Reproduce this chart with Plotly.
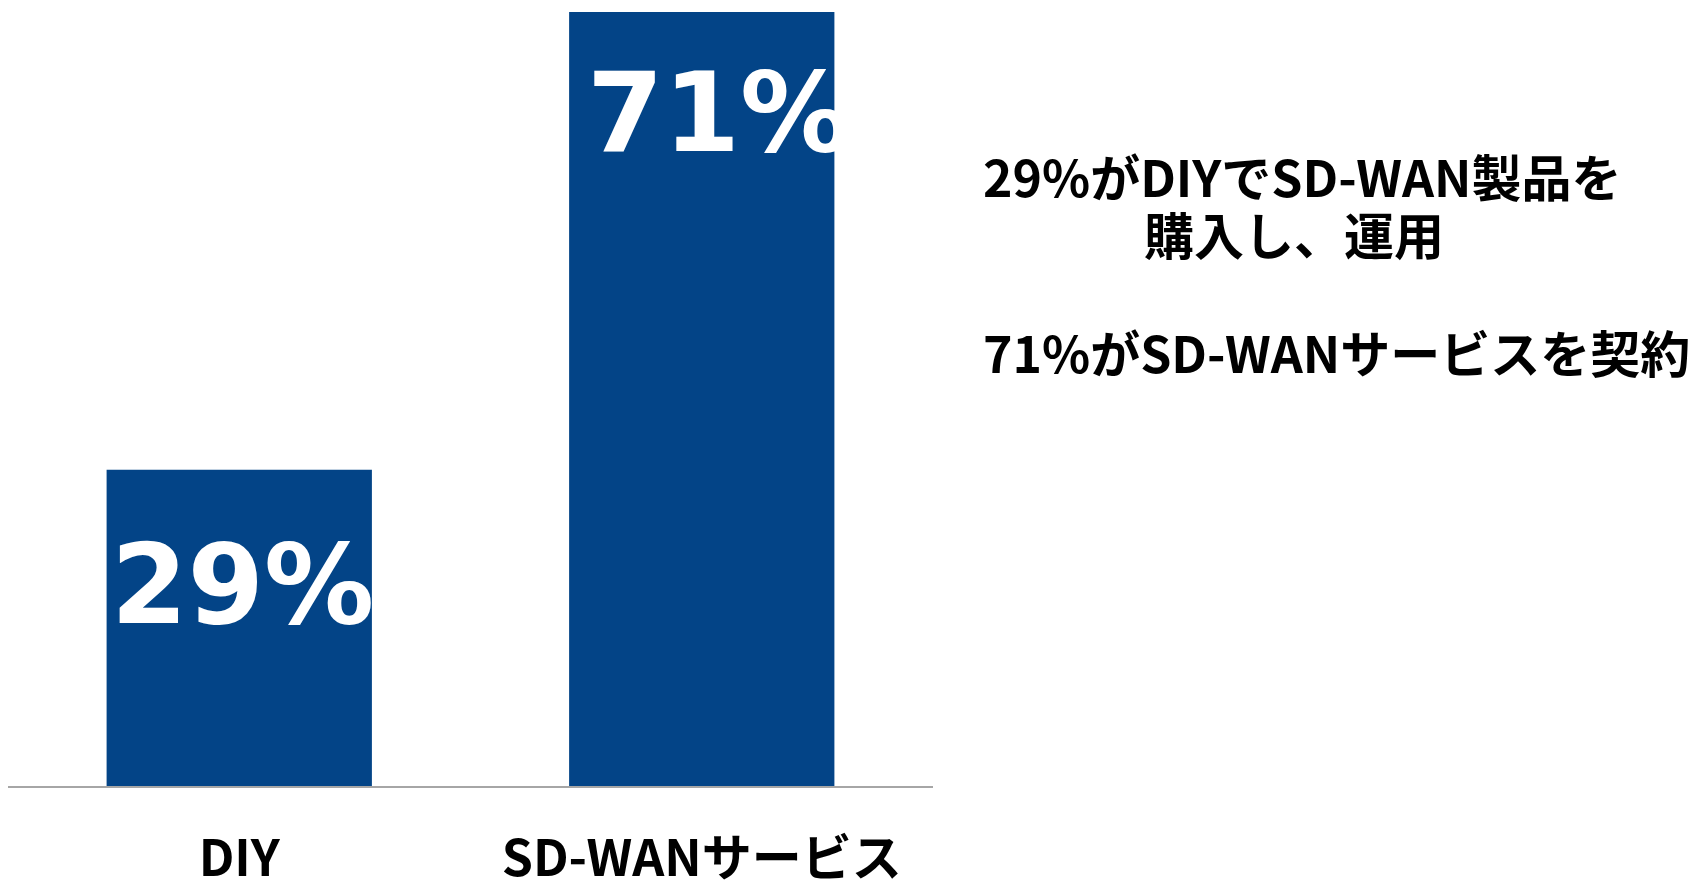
import plotly.graph_objects as go

# Data
categories = ["DIY", "SD-WANサービス"]
values = [29, 71]
value_labels = ["29%", "71%"]

# Side notes
notes = ["29%がDIYでSD-WAN製品を", "購入し、運用", "71%がSD-WANサービスを契約"]

BAR_COLOR = "#034487"
JP_FONT = "Noto Sans CJK JP, Noto Sans CJK SC, sans-serif"
NUM_FONT = "DejaVu Sans, Verdana, sans-serif"

# page has an 8px body margin
OFF = 8
W, H = 1690, 885
ML, MT = 0, 4
plot_right = 933 - OFF
plot_bottom = 786 - OFF
MR = W - plot_right
MB = H - plot_bottom
plot_w = W - ML - MR
plot_h = H - MT - MB

fig = go.Figure()
fig.add_trace(go.Bar(
    x=categories,
    y=values,
    marker=dict(color=BAR_COLOR, line=dict(width=0)),
    hoverinfo="skip",
))

# value labels inside the bars
label_xshift = [3, 17]
label_yshift = [-115, -101]
for cat, val, lab, xs, ys in zip(categories, values, value_labels, label_xshift, label_yshift):
    fig.add_annotation(
        x=cat, y=val, xref="x", yref="y",
        text=lab, showarrow=False,
        xanchor="center", yanchor="middle",
        xshift=xs, yshift=ys,
        font=dict(family=NUM_FONT, size=110, color="white", weight="bold"),
    )

# side notes (page pixel positions converted to paper coordinates)
def px_to_paper_x(px):
    return (px - OFF - ML) / plot_w

def px_to_paper_y(py):
    return (plot_bottom - (py - OFF)) / plot_h

note_pos = [(981, 175), (1142, 233), (981, 351)]
for txt, (px, py) in zip(notes, note_pos):
    fig.add_annotation(
        x=px_to_paper_x(px), y=px_to_paper_y(py), xref="paper", yref="paper",
        text=txt, showarrow=False, xanchor="left", yanchor="middle",
        font=dict(family=JP_FONT, size=50, color="black", weight="bold"),
    )

fig.update_layout(
    width=W, height=H,
    margin=dict(l=ML, r=MR, t=MT, b=MB, pad=0),
    paper_bgcolor="white", plot_bgcolor="white",
    bargap=0.4264,
    showlegend=False,
)
fig.update_xaxes(
    automargin=False,
    showline=True, linecolor="#a6a6a6", linewidth=1.5,
    showgrid=False, zeroline=False, ticks="",
    tickfont=dict(family=JP_FONT, size=50, color="black", weight="bold"),
    ticklabelstandoff=28,
)
fig.update_yaxes(
    automargin=False,
    range=[0, 71], showticklabels=False, showgrid=False, zeroline=False,
    showline=False,
)

fig.write_html("out.html")
